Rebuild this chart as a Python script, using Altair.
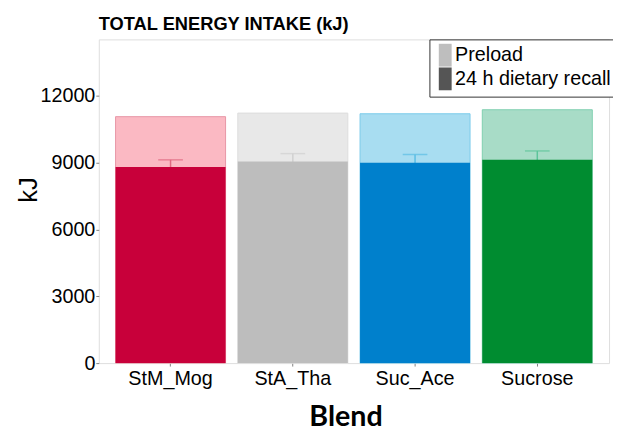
import altair as alt
import pandas as pd

blends = ["StM_Mog", "StA_Tha", "Suc_Ace", "Sucrose"]
recall = [8810, 9060, 9000, 9130]
preload = [2260, 2170, 2200, 2250]
err = [320, 350, 370, 400]

dark_colors = ["#C8003A", "#BDBDBD", "#0080CC", "#008C30"]
light_colors = ["#FBB9C3", "#E8E8E8", "#A8DDF1", "#A8DCC7"]
light_strokes = ["#E896A6", "#DDDDDD", "#7CCBEB", "#7FCFB0"]
err_colors = ["#E06A82", "#D0D0D0", "#5BBDE4", "#5CC49A"]

legend_items = ["Preload", "24 h dietary recall"]
legend_colors = ["#BEBEBE", "#555555"]

df = pd.DataFrame({
    "blend": blends,
    "recall": recall,
    "preload": preload,
    "err": err,
    "dark": dark_colors,
    "light": light_colors,
    "lstroke": light_strokes,
    "ecol": err_colors,
})
df["total"] = df["recall"] + df["preload"]
df["lo"] = df["recall"] - df["err"]
df["hi"] = df["recall"] + df["err"]

leg_df = pd.DataFrame({"item": legend_items})

x = alt.X(
    "blend:N",
    sort=blends,
    scale=alt.Scale(paddingInner=0.1, paddingOuter=0.137),
    axis=alt.Axis(
        title="Blend", labelAngle=0, labelFont="Liberation Sans", labelFontSize=20,
        labelColor="black", tickSize=3, tickColor="#808080", labelPadding=3,
        domain=False, titleFont="Lato", titleFontSize=29, titleFontWeight="bold",
        titleColor="black", titleX=250, titleY=63, titleBaseline="alphabetic",
        titleAlign="center",
    ),
)
yscale = alt.Scale(domain=[0, 14540], nice=False, zero=True)
yaxis = alt.Axis(
    title="kJ", values=[0, 3000, 6000, 9000, 12000], format="d", grid=False,
    labelFont="Liberation Sans", labelFontSize=20, labelColor="black",
    tickSize=3, tickColor="#808080", labelPadding=1, domain=False,
    titleFont="Liberation Sans", titleFontSize=26, titleFontWeight="normal",
    titleColor="black", titleX=-71, titleY=152, titleAngle=270,
    titleAlign="center", titleBaseline="middle",
)

base = alt.Chart(df)

light = base.mark_bar(strokeWidth=1).encode(
    x=x,
    y=alt.Y("total:Q", scale=yscale, axis=yaxis),
    fill=alt.Fill("light:N", scale=None),
    stroke=alt.Stroke("lstroke:N", scale=None),
)

rule = base.mark_rule(strokeWidth=1.5).encode(
    x=alt.X("blend:N", sort=blends),
    y=alt.Y("lo:Q"),
    y2="hi:Q",
    stroke=alt.Stroke("ecol:N", scale=None),
)

cap = base.mark_tick(size=25, thickness=1.5, orient="horizontal").encode(
    x=alt.X("blend:N", sort=blends),
    y=alt.Y("hi:Q"),
    color=alt.Color("ecol:N", scale=None),
)

dark = base.mark_bar().encode(
    x=alt.X("blend:N", sort=blends),
    y=alt.Y("recall:Q"),
    fill=alt.Fill("dark:N", scale=None),
)

leg = alt.Chart(leg_df).mark_point(filled=True, opacity=0).encode(
    color=alt.Color(
        "item:N",
        scale=alt.Scale(domain=legend_items, range=legend_colors),
        legend=alt.Legend(
            title=None, orient="none", legendX=335, legendY=0,
            symbolType="M-0.93,-1.65H0.93V1.65H-0.93Z", symbolSize=196,
            symbolOpacity=1, symbolStrokeWidth=0, labelFont="Liberation Sans",
            labelFontSize=20, labelColor="black", labelOffset=0, rowPadding=0,
            padding=6, strokeColor="#333333", fillColor="white",
        ),
    ),
)

chart = alt.layer(light, rule, cap, dark, leg).resolve_scale(
    color="independent"
).properties(
    width=517,
    height=328,
    autosize=alt.AutoSizeParams(type="none"),
    padding={"left": 92, "top": 29, "right": 4, "bottom": 68},
    title=alt.TitleParams(
        "TOTAL ENERGY INTAKE (kJ)", anchor="start", frame="group",
        font="Liberation Sans", fontSize=18.5, fontWeight="bold", color="black",
        offset=7, baseline="alphabetic", dy=16,
    ),
).configure_view(stroke="#808080", strokeWidth=1).configure(background="white")

chart.save("out.html", embed_options={"renderer": "svg", "actions": False})
